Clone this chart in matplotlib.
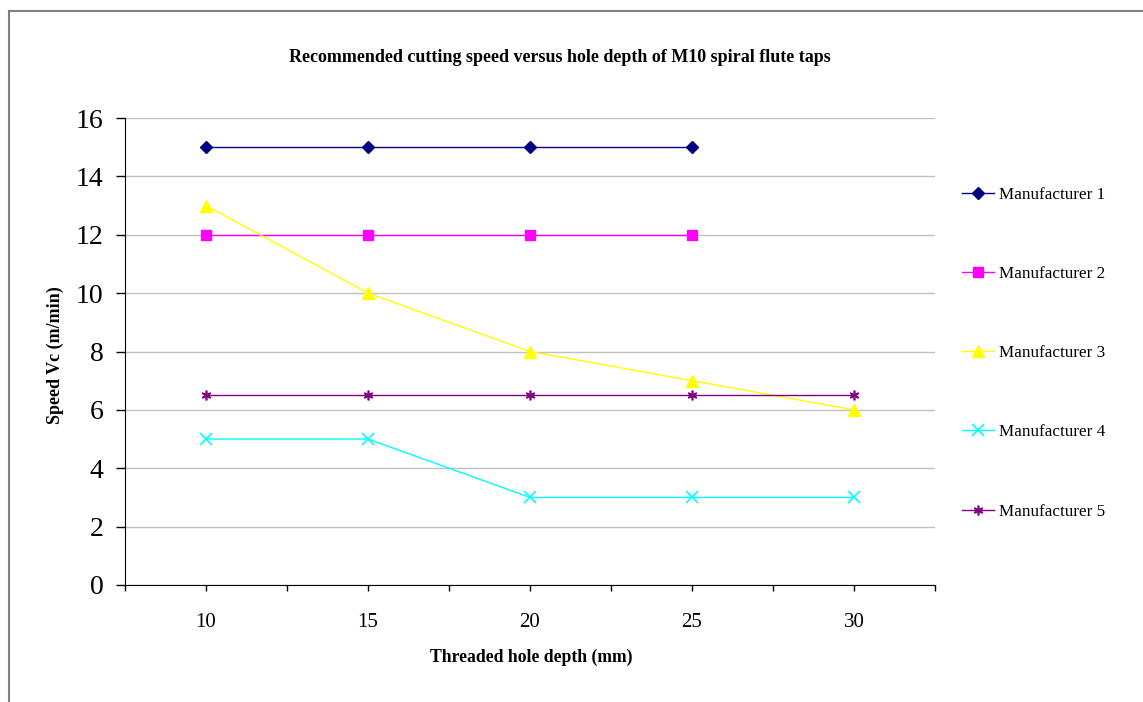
import matplotlib.pyplot as plt
from matplotlib.lines import Line2D

# categories (hole depth, mm)
depths = ["10", "15", "20", "25", "30"]

# recommended speeds Vc (m/min), None = no value
m1 = [15, 15, 15, 15, None]
m2 = [12, 12, 12, 12, None]
m3 = [13, 10, 8, 7, 6]
m4 = [5, 5, 3, 3, 3]
m5 = [6.5, 6.5, 6.5, 6.5, 6.5]

names = ["Manufacturer 1", "Manufacturer 2", "Manufacturer 3",
         "Manufacturer 4", "Manufacturer 5"]

plt.rcParams['font.family'] = ['Liberation Serif', 'DejaVu Serif']

fig = plt.figure(figsize=(11.43, 7.02), dpi=100)
ax = fig.add_axes([125 / 1143, 1 - 585 / 702, 810 / 1143, 467 / 702])

styles = [
    dict(color="#000080", marker="D", ms=6),
    dict(color="#FF00FF", marker="s", ms=7),
    dict(color="#FFFF00", marker="^", ms=8),
    dict(color="#00FFFF", marker="x", ms=8, mew=1.2),
    dict(color="#800080", marker=(6, 2, 0), ms=7, mew=1.2),
]

for vals, st in zip([m1, m2, m3, m4, m5], styles):
    xs = [i for i, v in enumerate(vals) if v is not None]
    ys = [v for v in vals if v is not None]
    ax.plot(xs, ys, lw=1.0, **st)

ax.set_xlim(-0.5, len(depths) - 0.5)
ax.set_ylim(0, 16)
ax.set_yticks(range(0, 17, 2))
ax.set_xticks([i * 0.5 - 0.5 for i in range(2 * len(depths) + 1)])
ax.set_xticklabels(["" if i % 2 == 0 else depths[i // 2] for i in range(2 * len(depths) + 1)])
ax.tick_params(axis='y', labelsize=20, length=6.5, width=1, pad=9)
ax.tick_params(axis='x', labelsize=15, length=4, width=1, pad=16)
ax.grid(axis='y', color="#c0c0c0", lw=1)
ax.set_axisbelow(True)
ax.spines['top'].set_visible(False)
ax.spines['right'].set_visible(False)

fig.text(560 / 1143, 1 - 57 / 702, "Recommended cutting speed versus hole depth of M10 spiral flute taps",
         ha='center', va='center', fontsize=13, fontweight='bold')
fig.text(531 / 1143, 1 - 657 / 702, "Threaded hole depth (mm)",
         ha='center', va='center', fontsize=12.7, fontweight='bold')
fig.text(55 / 1143, 1 - 355 / 702, "Speed Vc (m/min)", rotation=90,
         ha='center', va='center', fontsize=13, fontweight='bold')

handles = [Line2D([], [], lw=1.0, **st) for st in styles]
fig.legend(handles, names, loc='upper left', bbox_to_anchor=(955 / 1143, 1 - 180 / 702),
           frameon=False, fontsize=12.3, labelspacing=3.7, handlelength=1.9,
           handletextpad=0.3, borderaxespad=0)

# outer chart border (top and left edges visible)
fig.add_artist(Line2D([9 / 1143, 1.0], [1 - 11 / 702, 1 - 11 / 702], color="#808080", lw=1.5))
fig.add_artist(Line2D([9 / 1143, 9 / 1143], [0, 1 - 11 / 702], color="#808080", lw=1.5))

fig.savefig("out.png", dpi=100)
